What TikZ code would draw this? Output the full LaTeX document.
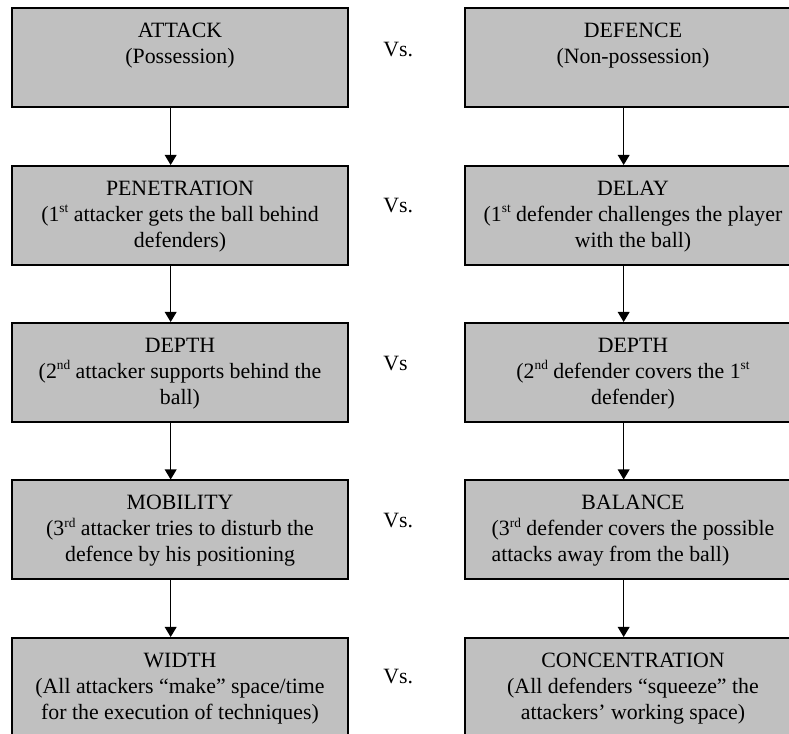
\documentclass[tikz,border=0pt]{standalone}
\usepackage{fontspec}
\setmainfont{Liberation Serif}
\usetikzlibrary{arrows.meta}
\definecolor{boxgray}{RGB}{192,192,192}
\tikzset{
  phase/.style={draw=black, line width=1.2pt, fill=boxgray, inner xsep=0.8pt, inner ysep=0pt,
    execute at begin node={\begin{minipage}[t][59.4pt][t]{200pt}\centering\fontsize{13.1}{15.6}\selectfont\vspace*{6.5pt}\strut},
    execute at end node={\end{minipage}}},
  vs/.style={anchor=base west, inner sep=0pt, font=\fontsize{13.1}{15.6}\selectfont},
  flow/.style={line width=0.8pt, -{Triangle[length=6pt,width=7pt]}}
}
\newcommand{\ordsup}[1]{\raisebox{0.85ex}{\fontsize{8}{8}\selectfont #1}}
\begin{document}
\begin{tikzpicture}[x=0.6pt,y=0.6pt]
\clip (0,0) rectangle (789,734);
% attack column
\node[phase] (att) at (180,676.5) {ATTACK\\(Possession)};
\node[phase] (pen) at (180,518.5) {PENETRATION\\(1\ordsup{st} attacker gets the ball behind\\defenders)};
\node[phase] (dpa) at (180,361.5) {DEPTH\\(2\ordsup{nd} attacker supports behind the\\ball)};
\node[phase] (mob) at (180,204) {MOBILITY\\(3\ordsup{rd} attacker tries to disturb the\\defence by his positioning};
\node[phase] (wid) at (180,46.5) {WIDTH\\(All attackers “make” space/time\\for the execution of techniques)};
% defence column
\node[phase] (def) at (633,676.5) {DEFENCE\\(Non-possession)};
\node[phase] (del) at (633,518.5) {DELAY\\(1\ordsup{st} defender challenges the player\\with the ball)};
\node[phase] (dpd) at (633,361.5) {DEPTH\\(2\ordsup{nd} defender covers the 1\ordsup{st}\\defender)};
\node[phase] (bal) at (633,204) {BALANCE\\\leavevmode\vtop{\hbox{(3\ordsup{rd} defender covers the possible}\hbox{attacks away from the ball)}}};
\node[phase] (con) at (633,46.5) {CONCENTRATION\\(All defenders “squeeze” the\\attackers’ working space)};
% versus labels
\node[vs] (vs1) at (383,677) {Vs.};
\node[vs] (vs2) at (383,521) {Vs.};
\node[vs] (vs3) at (383,363) {Vs};
\node[vs] (vs4) at (383,206) {Vs.};
\node[vs] (vs5) at (383,50) {Vs.};
% arrows
\draw[flow] ([xshift=-5.6pt]att.south) -- ([xshift=-5.6pt]pen.north);
\draw[flow] ([xshift=-5.6pt]pen.south) -- ([xshift=-5.6pt]dpa.north);
\draw[flow] ([xshift=-5.6pt]dpa.south) -- ([xshift=-5.6pt]mob.north);
\draw[flow] ([xshift=-5.6pt]mob.south) -- ([xshift=-5.6pt]wid.north);
\draw[flow] ([xshift=-5.6pt]def.south) -- ([xshift=-5.6pt]del.north);
\draw[flow] ([xshift=-5.6pt]del.south) -- ([xshift=-5.6pt]dpd.north);
\draw[flow] ([xshift=-5.6pt]dpd.south) -- ([xshift=-5.6pt]bal.north);
\draw[flow] ([xshift=-5.6pt]bal.south) -- ([xshift=-5.6pt]con.north);
\end{tikzpicture}
\end{document}
